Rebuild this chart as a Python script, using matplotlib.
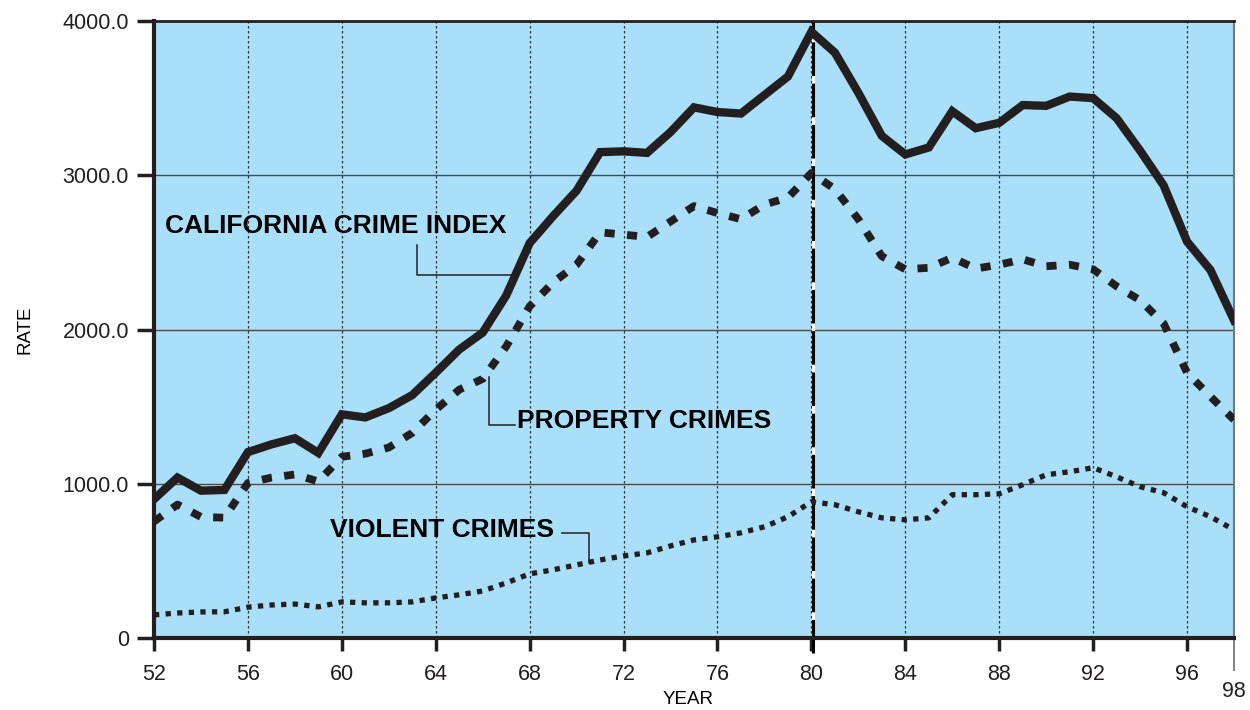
import matplotlib.pyplot as plt

plt.rcParams['font.family'] = ['Liberation Sans', 'DejaVu Sans']

years = list(range(52, 99))

crime_index = [900, 1040, 955, 960, 1205, 1255, 1295, 1200, 1450, 1430, 1490, 1575,
               1720, 1870, 1980, 2220, 2560, 2735, 2900, 3150, 3155, 3145, 3280, 3440,
               3410, 3400, 3520, 3640, 3930, 3795, 3535, 3255, 3135, 3180, 3415, 3305,
               3340, 3455, 3450, 3510, 3500, 3370, 3160, 2935, 2570, 2385, 2060]

property_crimes = [755, 865, 785, 780, 1005, 1040, 1060, 1015, 1175, 1195, 1235, 1330,
                   1480, 1610, 1680, 1890, 2150, 2305, 2420, 2630, 2615, 2600, 2700, 2800,
                   2755, 2715, 2810, 2855, 3015, 2910, 2715, 2475, 2390, 2400, 2465, 2395,
                   2420, 2455, 2410, 2420, 2390, 2280, 2190, 2040, 1720, 1565, 1415]

violent_crimes = [150, 162, 169, 170, 200, 214, 220, 202, 234, 228, 228, 234,
                  260, 280, 305, 357, 416, 442, 474, 506, 532, 552, 597, 636,
                  656, 682, 721, 786, 883, 864, 818, 779, 766, 779, 929, 929,
                  935, 994, 1058, 1078, 1104, 1045, 981, 942, 851, 786, 701]

x_ticks = list(range(52, 97, 4))
y_ticks = [0, 1000, 2000, 3000, 4000]
y_labels = ['0', '1000.0', '2000.0', '3000.0', '4000.0']

ink = '#231f20'

fig = plt.figure(figsize=(12.5, 7.1), dpi=100)
ax = fig.add_axes([154 / 1250, 72 / 710, 1080 / 1250, 617 / 710])
ax.set_facecolor('#a9dff9')

ax.set_xlim(52, 98)
ax.set_ylim(0, 4000)

# grid: solid horizontal, dotted vertical
for v in y_ticks[1:-1]:
    ax.axhline(v, color='#4a4a4a', lw=1.0, zorder=1)
for yr in x_ticks[1:]:
    ax.axvline(yr, color='#333333', lw=0.9, ls=(0, (2, 2)), zorder=1)

# 1980 marker line
ax.axvline(80.05, ymin=-0.025, color='white', lw=2.2, zorder=2, clip_on=False)
ax.axvline(80.05, ymin=-0.025, color='black', lw=2.2, ls=(0, (11, 2.5)), zorder=2,
           clip_on=False)

ax.plot(years, crime_index, color=ink, lw=6, solid_joinstyle='miter', zorder=3)
ax.plot(years, property_crimes, color=ink, lw=5.6, ls=(0, (1.3, 1.6)), zorder=3)
ax.plot(years, violent_crimes, color=ink, lw=3.8, ls=(0, (1.0, 1.2)), zorder=3)

# labels with leader lines
bold = dict(fontsize=19, fontweight='bold', color='black', va='center', ha='left', zorder=4)
ax.text(52.47, 2669, 'CALIFORNIA CRIME INDEX', **bold)
ax.plot([63.21, 63.21, 67.26], [2545, 2351, 2351], color=ink, lw=1.1, zorder=4)
ax.text(67.47, 1409, 'PROPERTY CRIMES', **bold)
ax.plot([66.28, 66.28, 67.39], [1695, 1383, 1383], color=ink, lw=1.1, zorder=4)
ax.text(59.5, 701, 'VIOLENT CRIMES', **bold)
ax.plot([69.39, 70.54, 70.54], [682, 682, 487], color=ink, lw=1.1, zorder=4)

# axes styling
ax.spines['left'].set_linewidth(3)
ax.spines['bottom'].set_linewidth(3)
ax.spines['top'].set_linewidth(2)
ax.spines['right'].set_linewidth(1.5)
for s in ['left', 'bottom', 'top']:
    ax.spines[s].set_color(ink)
ax.spines['right'].set_color('#777777')

ax.set_xticks(x_ticks)
ax.set_xticks([98], labels=['98'], minor=True)
ax.set_yticks(y_ticks, labels=y_labels)
ax.tick_params(axis='x', which='major', length=9, width=2.5, color=ink,
               labelsize=15.5, pad=10)
ax.tick_params(axis='x', which='minor', length=24, width=1.3, color='#777777',
               labelsize=15.5, pad=7)
ax.tick_params(axis='y', length=12, width=2.5, color=ink, labelsize=15.5, pad=6)
for lab in ax.get_xticklabels() + ax.get_yticklabels() + ax.get_xticklabels(minor=True):
    lab.set_color('#231f20')

fig.text(688 / 1250, 1 - 700 / 710, 'YEAR', fontsize=13.5, ha='center', va='center')
fig.text(25 / 1250, 1 - 330 / 710, 'RATE', fontsize=13.5, ha='center', va='center',
         rotation=90)

fig.savefig('out.png', dpi=100)
